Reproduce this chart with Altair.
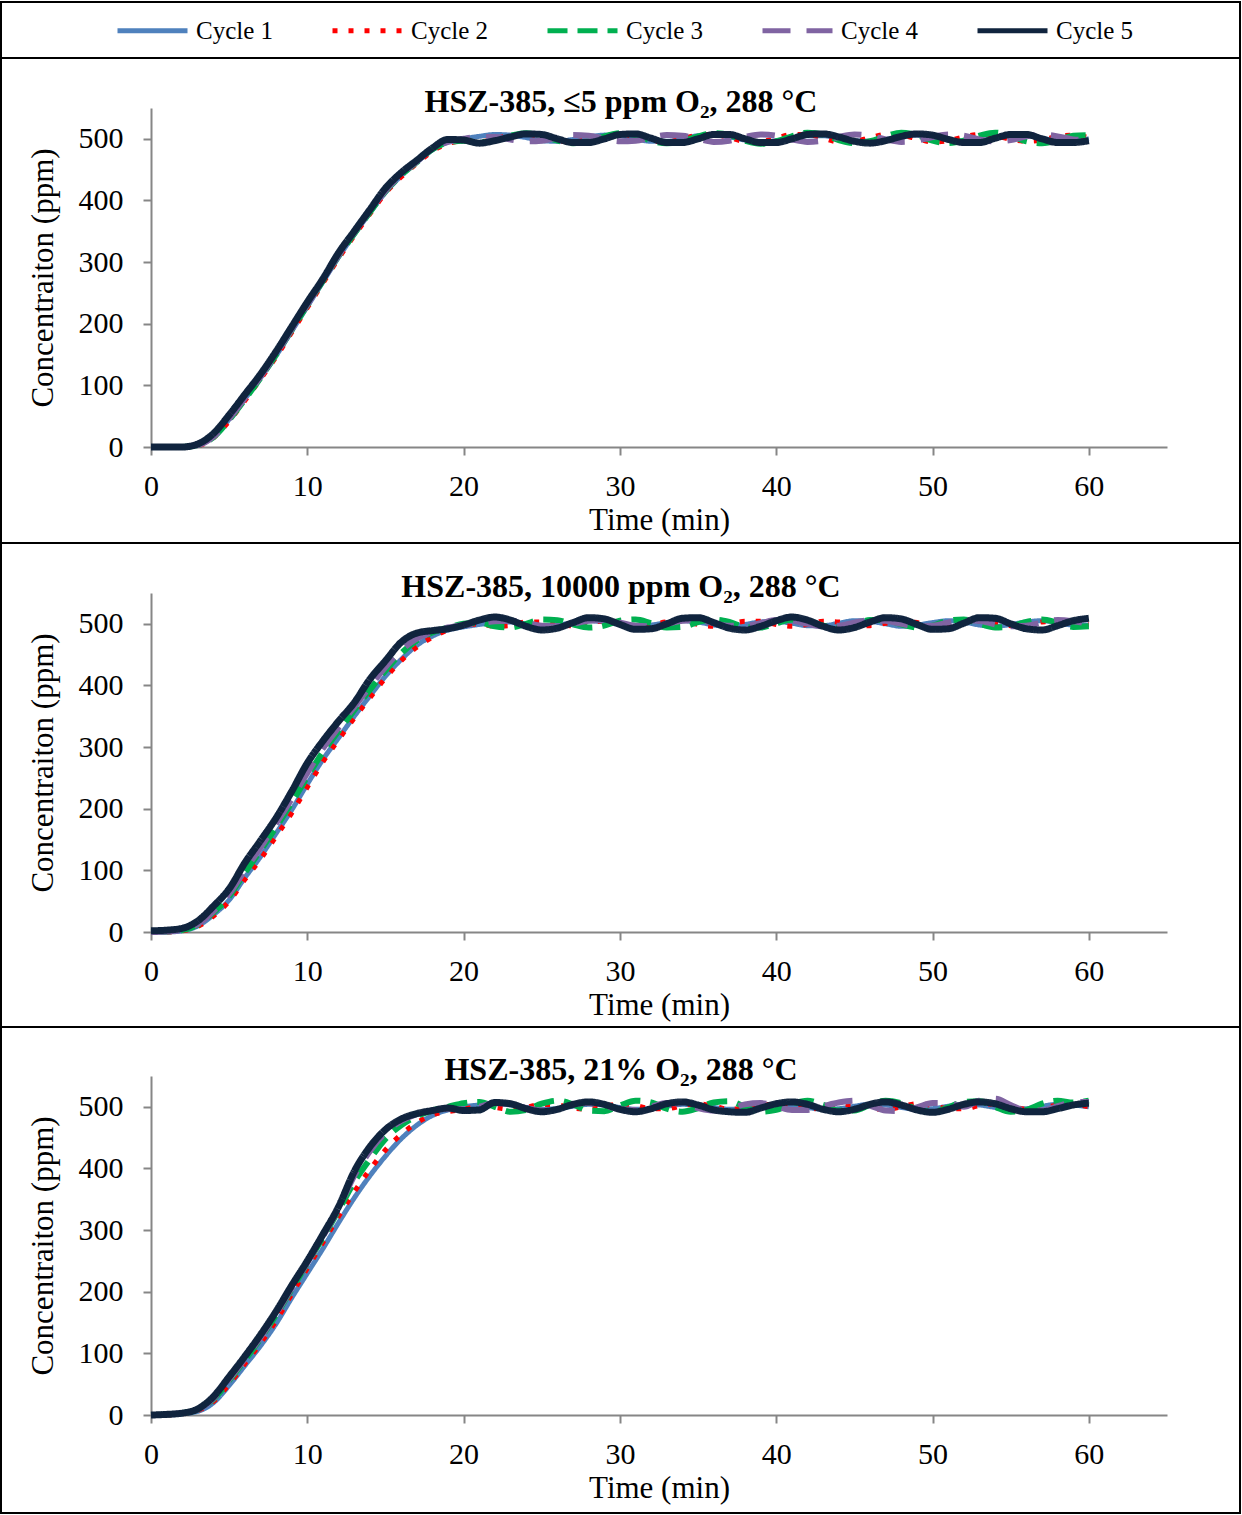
import altair as alt
import pandas as pd

TIME = list(range(0, 61))
CYCLES = ["Cycle 1", "Cycle 2", "Cycle 3", "Cycle 4", "Cycle 5"]
COLORS = ["#4F81BD", "#FF0000", "#00B050", "#8064A2", "#10243E"]
DASHES = [[1, 0], [5, 11], [20, 10], [28, 16], [1, 0]]
WIDTHS = [5, 5, 6, 6, 7]
TITLES = ["HSZ-385, ≤5 ppm O₂, 288 °C",
          "HSZ-385, 10000 ppm O₂, 288 °C",
          "HSZ-385, 21% O₂, 288 °C"]
X_TICKS = [0, 10, 20, 30, 40, 50, 60]
Y_TICKS = [0, 100, 200, 300, 400, 500]

# Panel 1: <=5 ppm O2
P1_C1 = [0, 0, 0, 3, 17, 45, 78, 112, 148, 188, 228, 268, 308, 345, 380, 413, 440, 462, 482, 495,
         500, 504, 507, 506, 502, 497, 496, 499, 503, 506, 505, 500, 496, 496, 500, 505, 506, 503, 498, 495,
         497, 501, 505, 505, 501, 497, 496, 499, 504, 506, 504, 499, 496, 497, 501, 505, 505, 501, 497, 497, 500]
P1_C2 = [0, 0, 0, 2, 15, 42, 75, 110, 146, 186, 226, 266, 306, 343, 378, 412, 438, 460, 480, 492,
         497, 495, 500, 506, 508, 503, 497, 495, 499, 505, 508, 503, 497, 495, 500, 506, 507, 502, 496, 496,
         501, 507, 507, 501, 495, 496, 502, 507, 506, 500, 495, 497, 503, 507, 505, 499, 496, 498, 504, 506, 502]
P1_C3 = [0, 0, 0, 3, 16, 44, 77, 112, 150, 190, 230, 270, 310, 346, 381, 415, 441, 462, 483, 494,
         497, 494, 498, 505, 509, 505, 497, 493, 496, 504, 509, 506, 497, 493, 496, 504, 509, 506, 497, 492,
         496, 504, 510, 507, 498, 493, 496, 504, 510, 506, 497, 493, 497, 505, 510, 505, 496, 493, 497, 505, 506]
P1_C4 = [0, 0, 0, 3, 17, 46, 79, 114, 151, 191, 231, 271, 311, 348, 383, 416, 442, 463, 484, 495,
         500, 503, 503, 499, 496, 497, 502, 506, 505, 500, 496, 497, 502, 506, 505, 500, 495, 497, 503, 507,
         505, 499, 495, 497, 503, 507, 505, 499, 495, 497, 503, 507, 505, 499, 496, 498, 504, 507, 504, 499, 498]
P1_C5 = [0, 0, 0, 5, 22, 52, 85, 118, 155, 195, 235, 273, 315, 350, 385, 420, 445, 465, 485, 499,
         498, 493, 497, 503, 508, 507, 500, 494, 494, 500, 507, 508, 501, 494, 494, 500, 507, 507, 500, 494,
         494, 500, 507, 508, 503, 496, 493, 497, 504, 508, 506, 499, 494, 494, 501, 507, 507, 500, 494, 494, 497]

# Panel 2: 10000 ppm O2
P2_C1 = [0, 0, 2, 10, 28, 52, 88, 122, 160, 198, 240, 280, 315, 350, 383, 415, 442, 465, 480, 490,
         495, 499, 502, 503, 500, 497, 498, 502, 505, 503, 499, 496, 498, 502, 505, 503, 498, 496, 499, 503,
         504, 501, 497, 497, 501, 505, 504, 500, 496, 498, 502, 505, 503, 498, 496, 499, 503, 505, 502, 498, 498]
P2_C2 = [0, 0, 2, 9, 26, 50, 85, 118, 155, 193, 235, 276, 312, 347, 380, 412, 440, 462, 478, 490,
         497, 500, 496, 497, 503, 503, 498, 497, 501, 505, 501, 496, 498, 503, 504, 499, 496, 499, 504, 504,
         499, 496, 499, 504, 503, 498, 497, 501, 505, 502, 497, 497, 502, 505, 501, 497, 498, 503, 504, 500, 499]
P2_C3 = [0, 1, 3, 12, 32, 58, 96, 132, 170, 210, 252, 292, 326, 360, 393, 424, 452, 473, 486, 494,
         500, 502, 496, 494, 500, 507, 506, 499, 494, 497, 505, 507, 501, 494, 495, 503, 507, 503, 495, 494,
         501, 507, 505, 497, 494, 499, 506, 506, 499, 494, 497, 505, 507, 500, 494, 496, 503, 507, 502, 495, 496]
P2_C4 = [0, 1, 3, 13, 34, 62, 100, 137, 176, 216, 258, 298, 332, 365, 398, 430, 457, 476, 487, 494,
         498, 501, 504, 505, 501, 497, 496, 500, 505, 506, 502, 497, 496, 500, 505, 506, 501, 497, 497, 501,
         506, 505, 500, 496, 497, 502, 506, 505, 500, 496, 497, 502, 506, 505, 499, 496, 497, 502, 506, 504, 500]
P2_C5 = [2, 3, 6, 18, 42, 70, 112, 148, 185, 228, 274, 310, 342, 372, 410, 440, 470, 485, 489, 492,
         498, 506, 511, 506, 496, 490, 493, 502, 510, 508, 499, 491, 492, 500, 509, 510, 502, 493, 490, 496,
         505, 511, 506, 496, 490, 494, 503, 510, 508, 499, 491, 492, 501, 510, 509, 500, 492, 490, 497, 505, 509]

# Panel 3: 21% O2
P3_C1 = [0, 0, 2, 6, 20, 48, 80, 112, 148, 190, 230, 270, 312, 352, 388, 420, 448, 470, 486, 495,
         500, 503, 505, 503, 499, 496, 497, 501, 504, 503, 499, 496, 497, 501, 504, 503, 499, 496, 497, 501,
         504, 503, 499, 496, 497, 501, 504, 503, 499, 496, 497, 501, 504, 503, 499, 496, 497, 501, 504, 503, 500]
P3_C2 = [0, 0, 2, 7, 22, 50, 83, 116, 153, 196, 238, 280, 322, 362, 398, 430, 455, 474, 487, 492,
         496, 501, 499, 496, 499, 504, 503, 498, 496, 500, 505, 502, 497, 497, 502, 505, 501, 496, 498, 503,
         504, 499, 496, 499, 504, 503, 498, 496, 500, 505, 502, 497, 497, 502, 505, 501, 496, 498, 503, 504, 500]
P3_C3 = [0, 1, 3, 9, 26, 56, 89, 124, 162, 204, 246, 288, 332, 378, 415, 448, 470, 485, 494, 500,
         506, 508, 500, 492, 495, 505, 510, 504, 494, 493, 502, 510, 507, 497, 492, 498, 507, 509, 500, 492,
         495, 505, 510, 503, 494, 494, 503, 510, 506, 496, 492, 499, 508, 509, 500, 492, 495, 505, 510, 507, 510]
P3_C4 = [0, 1, 3, 9, 27, 58, 91, 126, 164, 206, 247, 290, 335, 388, 428, 458, 477, 488, 494, 497,
         496, 500, 506, 505, 498, 494, 497, 504, 506, 502, 496, 495, 500, 506, 505, 498, 494, 497, 504, 506,
         501, 495, 495, 501, 507, 510, 502, 494, 493, 499, 506, 506, 500, 510, 513, 503, 494, 494, 501, 507, 508]
P3_C5 = [0, 1, 3, 10, 30, 62, 95, 130, 168, 210, 250, 293, 338, 395, 435, 463, 480, 489, 494, 498,
         494, 495, 507, 505, 497, 492, 496, 504, 508, 504, 496, 492, 497, 505, 508, 503, 495, 492, 491, 498,
         505, 508, 504, 496, 492, 496, 504, 508, 503, 495, 491, 496, 504, 508, 505, 497, 492, 492, 497, 503, 506]

PANELS = [
    [P1_C1, P1_C2, P1_C3, P1_C4, P1_C5],
    [P2_C1, P2_C2, P2_C3, P2_C4, P2_C5],
    [P3_C1, P3_C2, P3_C3, P3_C4, P3_C5],
]

FONT = "Liberation Serif"
W, H = 1016, 339
BOXES = [(-106, 435), (-50, 434), (-49, 437)]


def make_panel(idx):
    rows = []
    for name, vals in zip(CYCLES, PANELS[idx]):
        for t, v in zip(TIME, vals):
            rows.append({"cycle": name, "t": t, "c": v})
    df = pd.DataFrame(rows)

    if idx == 0:
        leg = alt.Legend(title=None, orient="none", legendX=-11, legendY=-90,
                         direction="horizontal", columns=5, symbolType="M-3.5,0H3.5",
                         symbolSize=400, symbolStrokeWidth=5, labelFont=FONT,
                         labelFontSize=25, labelColor="black", labelOffset=31,
                         columnPadding=48, padding=0, labelLimit=200)
    else:
        leg = None

    x = alt.X("t:Q", scale=alt.Scale(domain=[0, 65], nice=False, zero=False),
              axis=alt.Axis(values=X_TICKS, title="Time (min)", grid=False, labelFlush=False))
    y = alt.Y("c:Q", scale=alt.Scale(domain=[0, 550], nice=False),
              axis=alt.Axis(values=Y_TICKS, title="Concentraiton (ppm)", grid=False, labelFlush=False))
    color = alt.Color("cycle:N", scale=alt.Scale(domain=CYCLES, range=COLORS), legend=leg)
    dash = alt.StrokeDash("cycle:N", scale=alt.Scale(domain=CYCLES, range=DASHES), legend=leg)

    one = pd.DataFrame({"k": [0]})
    top, bottom = BOXES[idx]
    layers = [
        alt.Chart(one).mark_rect(fill="white", fillOpacity=0, stroke="black", strokeWidth=2).encode(
            x=alt.value(-150), x2=alt.value(1089), y=alt.value(top), y2=alt.value(bottom))
    ]
    if idx == 0:
        layers.append(alt.Chart(one).mark_rule(color="black", strokeWidth=2).encode(
            x=alt.value(-150), x2=alt.value(1089), y=alt.value(-50)))
    layers.append(alt.Chart(one).mark_text(text=TITLES[idx], font=FONT, fontSize=32, fontWeight="bold",
                                           align="center", baseline="alphabetic", color="black").encode(
        x=alt.value(470), y=alt.value(4)))
    for k, cyc in enumerate(CYCLES):
        layers.append(
            alt.Chart(df).transform_filter(alt.datum.cycle == cyc)
            .mark_line(strokeWidth=WIDTHS[k], interpolate="monotone", strokeCap="butt")
            .encode(x=x, y=y, color=color, strokeDash=dash)
        )
    return alt.layer(*layers).properties(width=W, height=H)


chart = alt.vconcat(make_panel(0), make_panel(1), make_panel(2), spacing=-2).resolve_scale(
    color="independent", strokeDash="independent"
).resolve_legend(color="independent", strokeDash="independent").properties(
    padding={"left": 0, "top": 1, "right": 0, "bottom": 0}
).configure_view(stroke=None).configure_axis(
    domainColor="#868686", domainWidth=2, tickColor="#868686", tickWidth=2, tickSize=8,
    labelFont=FONT, labelFontSize=30, labelColor="black",
    titleFont=FONT, titleFontSize=31, titleFontWeight="normal", titleColor="black"
).configure_axisY(titlePadding=19, labelPadding=20).configure_axisX(titlePadding=4, labelPadding=16)

chart.save("out.html", embed_options={"renderer": "svg", "actions": False})
